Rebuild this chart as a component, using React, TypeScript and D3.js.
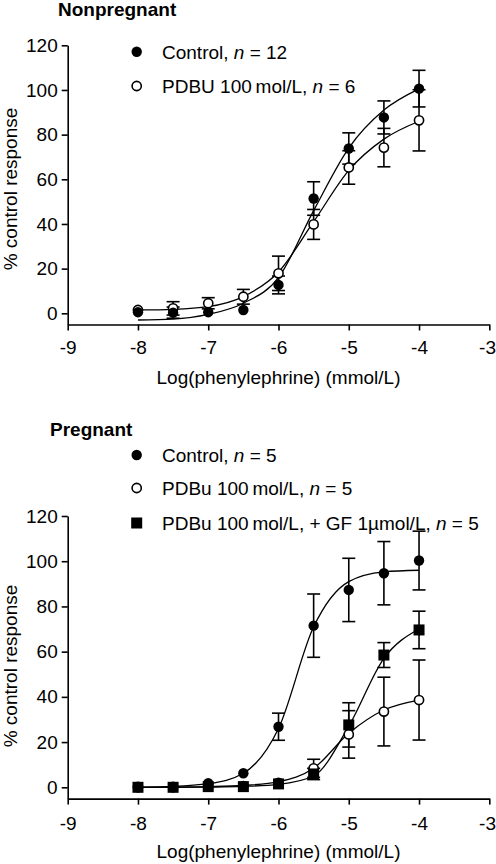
import React, { useEffect, useRef } from "react";
import * as d3 from "d3";

// ---- data ----
const doses = [-8, -7.5, -7, -6.5, -6, -5.5, -5, -4.5, -4];
const xTicks = [-9, -8, -7, -6, -5, -4, -3];
const yTicks = [0, 20, 40, 60, 80, 100, 120];

// Nonpregnant
const npControlMean = [0.5, 0.3, 0.5, 1.5, 12.7, 51.4, 73.8, 87.7, 100.6];
const npControlErr = [0, 2.5, 0, 0, 4, 7.5, 7, 7.4, 8.2];
const npPdbuMean = [1.5, 2.2, 4.5, 7.4, 17.9, 39.8, 65.3, 74.2, 86.4];
const npPdbuErr = [0, 3, 2.5, 3.3, 7.7, 6.7, 7.5, 8.6, 13.7];
const npControlFit = [-3, -2.6, -0.5, 4.5, 16, 46, 74, 91, 100.5];
const npPdbuFit = [1.5, 1.8, 3, 7.5, 18.5, 41, 64, 78, 86];

// Pregnant
const pControlMean = [0.3, 0.3, 1.8, 6.2, 26.8, 71.5, 87.3, 94.7, 100.3];
const pControlErr = [0, 0, 0, 0, 6, 14, 14, 14, 13];
const pPdbuMean = [0, 0, 0.5, 0.5, 2, 8.4, 23.4, 33.5, 38.6];
const pPdbuErr = [0, 0, 0, 0, 0, 4, 10.5, 15.2, 17.7];
const pGfMean = [0, 0, 0.3, 0.3, 1.5, 5.9, 27.6, 58.5, 69.6];
const pGfErr = [0, 0, 0, 0, 0, 2.5, 9.8, 5.5, 8.3];
const pControlFit = [0.1, 0.4, 1.6, 6.2, 26, 71, 91, 95.3, 96];
const pPdbuFit = [0, 0.1, 0.3, 0.8, 2.5, 8.4, 23.9, 34.2, 38.6];
const pGfFit = [0, 0, 0.1, 0.4, 1.3, 5, 27, 57, 70];

const FONT = "'Liberation Sans', Arial, Helvetica, sans-serif";
const FS = 19;

type Series = {
  mean: number[];
  err: number[];
  fit: number[];
  marker: "filled" | "open" | "square";
};

function Marker({ kind, cx, cy }: { kind: string; cx: number; cy: number }) {
  if (kind === "square") {
    return <rect x={cx - 5.5} y={cy - 5.5} width={11} height={11} fill="#000" />;
  }
  if (kind === "open") {
    return <circle cx={cx} cy={cy} r={4.6} fill="#fff" stroke="#000" strokeWidth={1.6} />;
  }
  return <circle cx={cx} cy={cy} r={5.2} fill="#000" />;
}

function Panel({
  top,
  zeroY,
  topY,
  axisPad,
  series,
}: {
  top: number;
  zeroY: number;
  topY: number;
  axisPad: number;
  series: Series[];
}) {
  const x = d3.scaleLinear().domain([-9, -3]).range([67.7, 489.3]);
  const y = d3.scaleLinear().domain([0, 120]).range([zeroY, topY]);
  const xAxisY = y(-5);
  const yRef = useRef<SVGGElement>(null);
  const xRef = useRef<SVGGElement>(null);

  useEffect(() => {
    const ya = d3
      .axisLeft(y.copy().domain([-5, 120]).range([y(-5), y(120)]))
      .tickValues(yTicks)
      .tickFormat((d: any) => String(d))
      .tickSize(6)
      .tickSizeOuter(0)
      .tickPadding(4);
    const gy = d3.select(yRef.current!);
    gy.call(ya as any);
    gy.selectAll("path,line").attr("stroke", "#000").attr("stroke-width", 1.6);
    gy.selectAll("text").attr("font-size", FS).attr("font-family", FONT).attr("fill", "#000");

    const xa = d3
      .axisBottom(x)
      .tickValues(xTicks)
      .tickFormat((d: any) => String(d))
      .tickSize(6)
      .tickSizeOuter(0)
      .tickPadding(axisPad);
    const gx = d3.select(xRef.current!);
    gx.call(xa as any);
    gx.selectAll("path,line").attr("stroke", "#000").attr("stroke-width", 1.6);
    gx.selectAll("text").attr("font-size", FS).attr("font-family", FONT).attr("fill", "#000");
    // keep the last label inside the page edge, as in the reference
    gx.selectAll<SVGTextElement, number>("text")
      .filter((d) => d === xTicks[xTicks.length - 1])
      .attr("text-anchor", "end")
      .attr("x", 495.5 - x(xTicks[xTicks.length - 1]));
  }, []);

  const line = d3
    .line<number>()
    .x((_, i) => x(doses[i]))
    .y((v) => y(v))
    .curve(d3.curveMonotoneX);

  return (
    <g>
      <g ref={yRef} transform={`translate(${x(-9)},0)`} />
      <g ref={xRef} transform={`translate(0,${xAxisY})`} />
      {series.map((s, si) => (
        <g key={"e" + si}>
          {s.mean.map((m, i) =>
            s.err[i] > 0 ? (
              <g key={i} stroke="#000" strokeWidth={1.6}>
                <line x1={x(doses[i])} x2={x(doses[i])} y1={y(m - s.err[i])} y2={y(m + s.err[i])} />
                <line x1={x(doses[i]) - 6.5} x2={x(doses[i]) + 6.5} y1={y(m + s.err[i])} y2={y(m + s.err[i])} />
                <line x1={x(doses[i]) - 6.5} x2={x(doses[i]) + 6.5} y1={y(m - s.err[i])} y2={y(m - s.err[i])} />
              </g>
            ) : null
          )}
        </g>
      ))}
      {series.map((s, si) => (
        <path key={"f" + si} d={line(s.fit) || ""} fill="none" stroke="#000" strokeWidth={1.3} />
      ))}
      {series.map((s, si) => (
        <g key={"m" + si}>
          {s.mean.map((m, i) => (
            <Marker key={i} kind={s.marker} cx={x(doses[i])} cy={y(m)} />
          ))}
        </g>
      ))}
      <text
        transform={`translate(17,${top}) rotate(-90)`}
        textAnchor="middle"
        fontSize={FS}
        fontFamily={FONT}
      >
        % control response
      </text>
      <text x={278.5} y={xAxisY + 59.5} textAnchor="middle" fontSize={FS} fontFamily={FONT}>
        Log(phenylephrine) (mmol/L)
      </text>
    </g>
  );
}

function LegendRow({ kind, cy, label, n }: { kind: string; cy: number; label: string; n: string }) {
  return (
    <g>
      <Marker kind={kind} cx={136.7} cy={cy} />
      <text x={162} y={cy + 6.8} fontSize={FS} fontFamily={FONT}>
        {label}
        <tspan fontStyle="italic">n</tspan>
        {" = " + n}
      </text>
    </g>
  );
}

export default function App() {
  const npSeries: Series[] = [
    { mean: npPdbuMean, err: npPdbuErr, fit: npPdbuFit, marker: "open" },
    { mean: npControlMean, err: npControlErr, fit: npControlFit, marker: "filled" },
  ];
  const pSeries: Series[] = [
    { mean: pPdbuMean, err: pPdbuErr, fit: pPdbuFit, marker: "open" },
    { mean: pControlMean, err: pControlErr, fit: pControlFit, marker: "filled" },
    { mean: pGfMean, err: pGfErr, fit: pGfFit, marker: "square" },
  ];
  return (
    <svg
      width={496}
      height={864}
      style={{ position: "absolute", left: 0, top: 0, background: "#fff" }}
    >
      <rect width={496} height={864} fill="#fff" />
      <text x={58} y={16} fontSize={FS} fontWeight="bold" fontFamily={FONT}>
        Nonpregnant
      </text>
      <LegendRow kind="filled" cy={51.7} label="Control, " n="12" />
      <LegendRow kind="open" cy={86} label={"PDBU 100\u2009mol/L, "} n="6" />
      <Panel top={189} zeroY={313.3} topY={45.3} axisPad={10.3} series={npSeries} />

      <text x={50} y={436} fontSize={FS} fontWeight="bold" fontFamily={FONT}>
        Pregnant
      </text>
      <LegendRow kind="filled" cy={455} label="Control, " n="5" />
      <LegendRow kind="open" cy={488} label={"PDBu 100\u2009mol/L, "} n="5" />
      <LegendRow kind="square" cy={523} label={"PDBu 100\u2009mol/L, + GF 1\u00b5mol/L, "} n="5" />
      <Panel top={666} zeroY={787.3} topY={516} axisPad={11.7} series={pSeries} />
    </svg>
  );
}
